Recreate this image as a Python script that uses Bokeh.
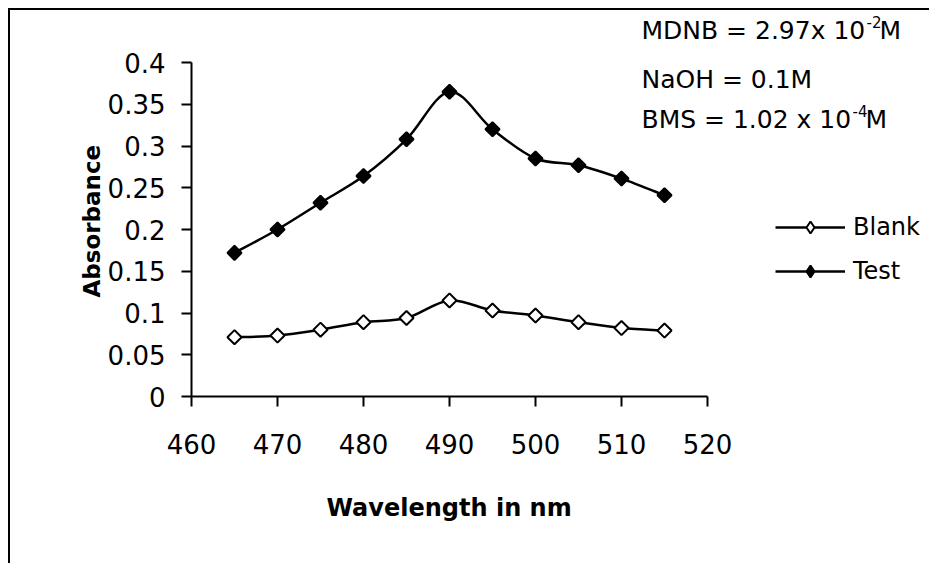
import numpy as np
from bokeh.plotting import figure
from bokeh.models import Label, Legend, LegendItem, FixedTicker, Range1d, Title
from bokeh.embed import file_html
from bokeh.resources import INLINE

# ---- data ----
wavelength = [465, 470, 475, 480, 485, 490, 495, 500, 505, 510, 515]
blank = [0.071, 0.073, 0.080, 0.089, 0.094, 0.115, 0.103, 0.097, 0.089, 0.082, 0.079]
test = [0.172, 0.200, 0.232, 0.264, 0.308, 0.365, 0.320, 0.285, 0.277, 0.261, 0.241]
x_ticks = [460, 470, 480, 490, 500, 510, 520]
y_ticks = [0, 0.05, 0.1, 0.15, 0.2, 0.25, 0.3, 0.35, 0.4]
y_tick_labels = ["0", "0.05", "0.1", "0.15", "0.2", "0.25", "0.3", "0.35", "0.4"]
series_names = ["Blank", "Test"]
x_title = "Wavelength in nm"
y_title = "Absorbance"
notes = ["MDNB = 2.97x 10", "NaOH = 0.1M", "BMS  = 1.02 x 10"]

FONT = "DejaVu Sans"

# ---- layout (pixels) ----
AX_W, AX_H = 516, 334          # size of the 460-520 / 0-0.4 axes box
FRAME_W, FRAME_H = 738, 386    # drawing area extends right/up so texts are not clipped
X0, X1 = x_ticks[0], x_ticks[-1]
Y0, Y1 = y_ticks[0], y_ticks[-1]
x_end = X0 + FRAME_W * (X1 - X0) / AX_W
y_end = Y0 + FRAME_H * (Y1 - Y0) / AX_H


def smooth_segments(xs, ys):
    """Excel-like smoothed line: cubic Bezier segments through the points."""
    xs = np.asarray(xs, float)
    ys = np.asarray(ys, float)
    n = len(xs)
    out = {k: [] for k in ("x0", "y0", "x1", "y1", "cx0", "cy0", "cx1", "cy1")}
    for i in range(n - 1):
        im, ip = max(i - 1, 0), min(i + 2, n - 1)
        out["x0"].append(xs[i]); out["y0"].append(ys[i])
        out["x1"].append(xs[i + 1]); out["y1"].append(ys[i + 1])
        out["cx0"].append(xs[i] + (xs[i + 1] - xs[im]) / 6)
        out["cy0"].append(ys[i] + (ys[i + 1] - ys[im]) / 6)
        out["cx1"].append(xs[i + 1] - (xs[ip] - xs[i]) / 6)
        out["cy1"].append(ys[i + 1] - (ys[ip] - ys[i]) / 6)
    return out


p = figure(
    frame_width=FRAME_W, frame_height=FRAME_H,
    min_border_left=181, min_border_right=0,
    min_border_top=0, min_border_bottom=167,
    x_range=Range1d(X0, x_end), y_range=Range1d(Y0, y_end),
    output_backend="svg", toolbar_location=None,
)
p.styles = {"margin-top": "8px", "margin-left": "8px",
            "border-top": "2px solid black", "border-left": "2px solid black"}
p.outline_line_color = None
p.xgrid.visible = False
p.ygrid.visible = False
p.background_fill_color = "white"
p.border_fill_color = "white"

for ax in (p.xaxis[0], p.yaxis[0]):
    ax.axis_line_width = 2
    ax.axis_line_color = "black"
    ax.major_tick_line_width = 2
    ax.major_tick_line_color = "black"
    ax.major_tick_out = 10
    ax.major_tick_in = 0
    ax.minor_tick_out = 0
    ax.minor_tick_in = 0
    ax.major_label_text_font = FONT
    ax.major_label_text_font_size = "26px"
    ax.major_label_text_color = "black"

p.xaxis.bounds = (X0, X1)
p.yaxis.bounds = (Y0, Y1)
p.xaxis.ticker = FixedTicker(ticks=x_ticks)
p.yaxis.ticker = FixedTicker(ticks=y_ticks)
p.yaxis.major_label_overrides = {t: s for t, s in zip(y_ticks, y_tick_labels)}
p.xaxis.major_label_standoff = 27
p.yaxis.major_label_standoff = 16

# axis titles placed under / beside the 460-520 / 0-0.4 box (not the wider drawing area)
p.add_layout(Title(text=x_title, align="left", offset=135, standoff=70,
                   text_font=FONT, text_font_size="24px", text_font_style="bold",
                   text_color="black"), "below")
p.add_layout(Title(text=y_title, align="left", offset=99, standoff=0,
                   text_font=FONT, text_font_size="23px", text_font_style="bold",
                   text_color="black"), "left")

renderers = {}
for name, vals, fill in ((series_names[0], blank, "white"), (series_names[1], test, "black")):
    seg = smooth_segments(wavelength, vals)
    b = p.bezier(x0=seg["x0"], y0=seg["y0"], x1=seg["x1"], y1=seg["y1"],
                 cx0=seg["cx0"], cy0=seg["cy0"], cx1=seg["cx1"], cy1=seg["cy1"],
                 line_color="black", line_width=2.5)
    p.scatter(x=wavelength, y=vals, marker="square", angle=np.pi / 4, size=10,
              fill_color=fill, line_color="black", line_width=2)
    # diamond used for the legend key (legend keys are drawn unrotated)
    key = p.scatter(x=wavelength, y=vals, marker="diamond", size=14,
                    fill_color=fill, line_color="black", line_width=2, visible=False)
    renderers[name] = [b, key]

legend = Legend(
    items=[LegendItem(label=n, renderers=renderers[n]) for n in series_names],
    location=(584, 110), glyph_width=70, glyph_height=30, label_standoff=8,
    spacing=14, padding=0, margin=0,
    label_text_font=FONT, label_text_font_size="24px", label_text_color="black",
    border_line_alpha=0, background_fill_alpha=0,
)
p.add_layout(legend)

note_y = [366, 317, 277]
note_end = [675, None, 661]
for txt, yy in zip(notes, note_y):
    p.add_layout(Label(x=450, y=yy, x_units="screen", y_units="screen", text=txt,
                       text_baseline="middle", text_font=FONT, text_font_size="25px",
                       text_color="black"))
for yy, xe, sup in ((note_y[0], note_end[0], "-2"), (note_y[2], note_end[2], "-4")):
    p.add_layout(Label(x=xe, y=yy + 9, x_units="screen", y_units="screen", text=sup,
                       text_baseline="middle", text_font=FONT, text_font_size="15px",
                       text_color="black"))
    p.add_layout(Label(x=xe + 13, y=yy, x_units="screen", y_units="screen", text="M",
                       text_baseline="middle", text_font=FONT, text_font_size="25px",
                       text_color="black"))

open("out.html", "w").write(file_html(p, INLINE))
